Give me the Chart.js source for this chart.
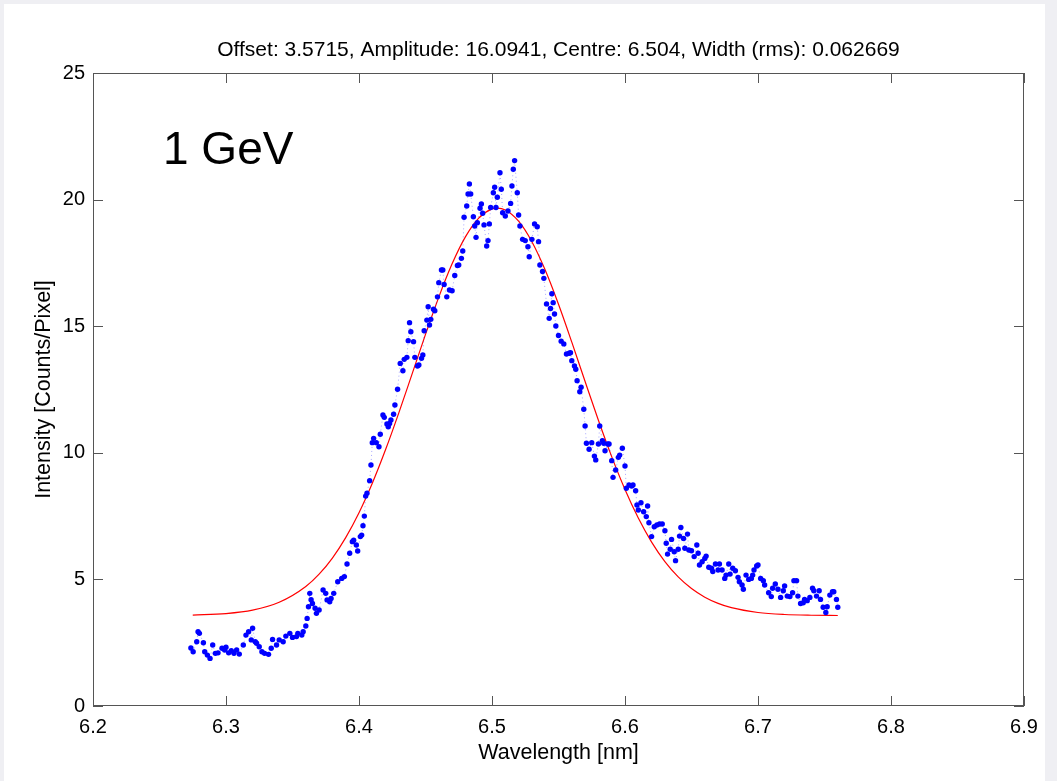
<!DOCTYPE html>
<html>
<head>
<meta charset="utf-8">
<script src="https://cdn.jsdelivr.net/npm/chart.js@4"></script>
<style>
  html, body { margin: 0; padding: 0; background: #efeff3; }
  canvas { display: block; }
</style>
</head>
<body>
<canvas id="spectrum" width="1057" height="781"></canvas>
<script>
// Measured spectrum (blue dots)
const wavelength = [
  6.2736, 6.2753, 6.278, 6.279, 6.280, 6.283, 6.284, 6.286, 6.288, 6.290,
  6.292, 6.294, 6.297, 6.299, 6.300, 6.302, 6.304, 6.306, 6.308, 6.310,
  6.313, 6.315, 6.317, 6.319, 6.320, 6.322, 6.323, 6.325, 6.327, 6.329,
  6.332, 6.334, 6.335, 6.338, 6.340, 6.343, 6.345, 6.348, 6.350, 6.353,
  6.354, 6.357, 6.358, 6.360, 6.361, 6.362, 6.363, 6.364, 6.365, 6.367,
  6.368, 6.370, 6.373, 6.375, 6.376, 6.378, 6.379, 6.381, 6.384, 6.387,
  6.389, 6.391, 6.393, 6.395, 6.396, 6.398, 6.399, 6.401, 6.402, 6.403,
  6.404, 6.405, 6.406, 6.408, 6.409, 6.410, 6.411, 6.413, 6.415, 6.416,
  6.418, 6.419, 6.421, 6.422, 6.423, 6.424, 6.426, 6.427, 6.429, 6.431,
  6.433, 6.434, 6.436, 6.437, 6.438, 6.439, 6.441, 6.442, 6.444, 6.445,
  6.447, 6.448, 6.449, 6.451, 6.452, 6.453, 6.454, 6.456, 6.457, 6.459,
  6.460, 6.462, 6.463, 6.464, 6.466, 6.468, 6.470, 6.472, 6.474, 6.475,
  6.477, 6.478, 6.479, 6.481, 6.482, 6.483, 6.484, 6.486, 6.487, 6.488,
  6.489, 6.491, 6.492, 6.493, 6.494, 6.496, 6.497, 6.498, 6.499, 6.501,
  6.502, 6.503, 6.504, 6.506, 6.507, 6.508, 6.510, 6.512, 6.514, 6.515,
  6.516, 6.517, 6.519, 6.520, 6.521, 6.523, 6.525, 6.527, 6.528, 6.530,
  6.532, 6.534, 6.535, 6.536, 6.538, 6.539, 6.541, 6.543, 6.544, 6.545,
  6.546, 6.547, 6.548, 6.550, 6.552, 6.554, 6.556, 6.558, 6.559, 6.560,
  6.562, 6.563, 6.564, 6.566, 6.567, 6.569, 6.570, 6.571, 6.573, 6.575,
  6.577, 6.578, 6.580, 6.581, 6.583, 6.584, 6.585, 6.587, 6.588, 6.590,
  6.591, 6.593, 6.595, 6.596, 6.598, 6.600, 6.601, 6.603, 6.605, 6.606,
  6.608, 6.609, 6.610, 6.612, 6.614, 6.616, 6.617, 6.618, 6.620, 6.622,
  6.624, 6.626, 6.628, 6.630, 6.631, 6.632, 6.634, 6.635, 6.637, 6.638,
  6.640, 6.641, 6.642, 6.644, 6.645, 6.647, 6.648, 6.650, 6.652, 6.654,
  6.655, 6.656, 6.658, 6.660, 6.661, 6.663, 6.665, 6.666, 6.668, 6.670,
  6.671, 6.673, 6.675, 6.676, 6.678, 6.679, 6.681, 6.683, 6.685, 6.686,
  6.688, 6.689, 6.691, 6.693, 6.695, 6.696, 6.697, 6.699, 6.700, 6.702,
  6.704, 6.705, 6.708, 6.710, 6.711, 6.713, 6.715, 6.717, 6.719, 6.720,
  6.722, 6.724, 6.726, 6.727, 6.729, 6.730, 6.732, 6.734, 6.735, 6.737,
  6.739, 6.741, 6.742, 6.744, 6.746, 6.747, 6.749, 6.751, 6.752, 6.754,
  6.756, 6.757, 6.759, 6.760
];
const intensity = [
  2.29, 2.14, 2.54, 2.93, 2.87, 2.50, 2.14, 2.01, 1.88, 2.41,
  2.08, 2.10, 2.28, 2.21, 2.32, 2.10, 2.18, 2.08, 2.21, 2.05,
  2.41, 2.80, 2.93, 2.61, 3.07, 2.54, 2.48, 2.34, 2.14, 2.08,
  2.04, 2.28, 2.63, 2.41, 2.61, 2.54, 2.76, 2.87, 2.71, 2.74,
  2.87, 2.80, 2.93, 3.16, 3.46, 3.92, 4.45, 4.20, 4.05, 3.86,
  3.66, 3.79, 4.58, 4.45, 4.19, 4.12, 4.25, 4.45, 4.91, 5.04,
  5.11, 5.61, 6.03, 6.49, 6.55, 6.36, 6.12, 6.69, 6.75, 7.12,
  7.50, 8.29, 8.40, 8.90, 9.52, 10.40, 10.57, 10.40, 10.24, 10.73,
  11.49, 11.40, 11.14, 11.03, 11.16, 11.30, 11.52, 11.89, 12.51, 13.53,
  13.24, 13.69, 13.77, 14.43, 15.14, 14.78, 14.39, 13.77, 13.43, 13.47,
  13.73, 13.86, 14.82, 15.24, 15.77, 15.05, 15.27, 15.67, 15.61, 16.16,
  16.72, 17.22, 17.22, 16.65, 16.16, 16.43, 16.40, 17.00, 17.40, 17.42,
  17.68, 17.97, 19.30, 19.75, 20.22, 20.62, 20.22, 19.32, 18.96, 18.51,
  19.09, 19.66, 19.83, 19.46, 19.00, 18.17, 18.38, 19.04, 19.69, 20.27,
  20.49, 19.69, 20.09, 21.06, 20.41, 19.48, 19.35, 19.55, 19.85, 20.54,
  21.20, 21.54, 20.27, 19.39, 18.96, 18.43, 18.38, 18.14, 17.74, 18.43,
  19.04, 18.93, 18.34, 17.42, 17.16, 16.89, 15.88, 15.31, 15.70, 16.28,
  15.93, 15.48, 15.01, 14.63, 14.41, 14.30, 13.90, 13.93, 13.95, 13.64,
  13.43, 13.30, 12.85, 12.41, 12.59, 11.72, 11.06, 10.38, 10.14, 10.40,
  9.87, 9.72, 10.35, 11.06, 10.48, 10.38, 10.08, 10.35, 10.35, 9.69,
  9.03, 9.32, 9.82, 9.91, 10.18, 9.48, 8.60, 8.73, 8.69, 8.73,
  8.50, 7.94, 7.74, 8.03, 7.67, 7.48, 7.90, 7.24, 6.69, 7.08,
  7.15, 7.19, 7.19, 6.92, 6.43, 6.00, 6.19, 6.58, 6.09, 5.74,
  6.19, 6.71, 7.05, 6.62, 6.23, 6.79, 6.16, 6.13, 5.90, 6.36,
  6.03, 5.57, 5.70, 5.83, 5.92, 5.48, 5.44, 5.31, 5.61, 5.37,
  5.61, 5.37, 5.04, 5.17, 5.61, 5.21, 5.44, 5.34, 5.08, 4.91,
  4.78, 4.61, 5.17, 5.00, 5.04, 5.17, 5.37, 5.53, 5.57, 5.04,
  4.95, 4.78, 4.47, 4.32, 4.65, 4.82, 4.61, 4.29, 4.55, 4.74,
  4.34, 4.32, 4.47, 4.95, 4.95, 4.34, 4.05, 4.08, 4.21, 4.16,
  4.29, 4.65, 4.55, 4.34, 4.55, 4.21, 3.90, 3.69, 3.92, 4.38,
  4.51, 4.51, 4.21, 3.90
];

// Gaussian fit (red curve)
const fitWavelength = [
  6.275, 6.30, 6.32, 6.34, 6.36, 6.37, 6.38, 6.39, 6.40, 6.41,
  6.42, 6.43, 6.44, 6.45, 6.46, 6.47, 6.48, 6.49, 6.50, 6.504,
  6.51, 6.52, 6.53, 6.54, 6.55, 6.56, 6.57, 6.58, 6.59, 6.60,
  6.61, 6.62, 6.63, 6.64, 6.65, 6.66, 6.67, 6.68, 6.70, 6.72,
  6.74, 6.76
];
const fitIntensity = [
  3.592, 3.652, 3.787, 4.096, 4.720, 5.208, 5.844, 6.649, 7.632, 8.797,
  10.127, 11.586, 13.126, 14.675, 16.149, 17.462, 18.528, 19.270, 19.633, 19.666,
  19.592, 19.149, 18.338, 17.218, 15.864, 14.369, 12.814, 11.287, 9.848, 8.549,
  7.421, 6.473, 5.704, 5.099, 4.638, 4.298, 4.054, 3.883, 3.693, 3.614,
  3.585, 3.575
];

const xTicks = [6.2, 6.3, 6.4, 6.5, 6.6, 6.7, 6.8, 6.9];
const yTicks = [0, 5, 10, 15, 20, 25];

const titleText = 'Offset: 3.5715, Amplitude: 16.0941, Centre: 6.504, Width (rms): 0.062669';
const xLabel = 'Wavelength [nm]';
const yLabel = 'Intensity [Counts/Pixel]';
const annotation = '1 GeV';

const FONT = "'Liberation Sans', Arial, Helvetica, sans-serif";
const BOX = '#555555';

// grey frame + white figure
const figureBg = {
  id: 'figureBg',
  beforeDraw(chart) {
    const ctx = chart.ctx;
    ctx.save();
    ctx.fillStyle = '#efeff3';
    ctx.fillRect(0, 0, chart.width, chart.height);
    ctx.fillStyle = '#ffffff';
    ctx.fillRect(4, 4, 1041, chart.height - 4);
    ctx.restore();
  }
};

// matlab-style box with inward ticks + texts
const boxAndText = {
  id: 'boxAndText',
  afterDraw(chart) {
    const ctx = chart.ctx;
    const a = chart.chartArea;
    const xs = chart.scales.x, ys = chart.scales.y;
    ctx.save();
    ctx.strokeStyle = BOX;
    ctx.lineWidth = 1;
    ctx.strokeRect(a.left + 0.5, a.top + 0.5, a.right - a.left - 1, a.bottom - a.top - 1);
    ctx.beginPath();
    xTicks.forEach(v => {
      const px = Math.round(xs.getPixelForValue(v)) + 0.5;
      ctx.moveTo(px, a.bottom); ctx.lineTo(px, a.bottom - 10);
      ctx.moveTo(px, a.top); ctx.lineTo(px, a.top + 10);
    });
    yTicks.forEach(v => {
      const py = Math.round(ys.getPixelForValue(v)) + 0.5;
      ctx.moveTo(a.left, py); ctx.lineTo(a.left + 10, py);
      ctx.moveTo(a.right, py); ctx.lineTo(a.right - 10, py);
    });
    ctx.stroke();

    const cx = (a.left + a.right) / 2;
    ctx.fillStyle = '#000';
    ctx.textAlign = 'center';
    ctx.textBaseline = 'alphabetic';
    ctx.font = '21px ' + FONT;
    ctx.fillText(titleText, cx, 56);
    ctx.font = '21.5px ' + FONT;
    ctx.fillText(xLabel, cx, 759);
    ctx.save();
    ctx.translate(50, (a.top + a.bottom) / 2);
    ctx.rotate(-Math.PI / 2);
    ctx.fillText(yLabel, 0, 0);
    ctx.restore();

    ctx.textAlign = 'left';
    ctx.font = '46px ' + FONT;
    ctx.fillText(annotation, 163, 164);
    ctx.restore();
  }
};

new Chart(document.getElementById('spectrum'), {
  type: 'scatter',
  data: {
    datasets: [
      {
        label: 'fit',
        data: fitWavelength.map((x, i) => ({ x, y: fitIntensity[i] })),
        showLine: true,
        borderColor: '#ff0000',
        borderWidth: 1.2,
        pointRadius: 0,
        cubicInterpolationMode: 'monotone',
        order: 2
      },
      {
        label: 'data',
        data: wavelength.map((x, i) => ({ x, y: intensity[i] })),
        showLine: true,
        borderColor: 'rgba(0,0,255,0.35)',
        borderWidth: 1,
        borderDash: [1, 3],
        backgroundColor: '#0000ff',
        pointBackgroundColor: '#0000ff',
        pointBorderWidth: 0,
        pointRadius: 2.7,
        order: 1
      }
    ]
  },
  options: {
    responsive: false,
    animation: false,
    layout: { padding: { left: 0, top: 73, right: 33, bottom: 35 } },
    plugins: {
      legend: { display: false },
      tooltip: { enabled: false }
    },
    scales: {
      x: {
        type: 'linear',
        min: 6.2,
        max: 6.9,
        afterBuildTicks: s => { s.ticks = xTicks.map(v => ({ value: v })); },
        afterFit: s => { s.height = 40; },
        grid: { display: false, drawTicks: false },
        border: { display: false },
        ticks: {
          padding: 9,
          color: '#000',
          font: { family: FONT, size: 20 },
          maxRotation: 0,
          callback: v => v.toFixed(1)
        }
      },
      y: {
        type: 'linear',
        min: 0,
        max: 25,
        afterBuildTicks: s => { s.ticks = yTicks.map(v => ({ value: v })); },
        afterFit: s => { s.width = 93; },
        grid: { display: false, drawTicks: false },
        border: { display: false },
        ticks: {
          padding: 8,
          color: '#000',
          font: { family: FONT, size: 20 },
          callback: v => String(v)
        }
      }
    }
  },
  plugins: [figureBg, boxAndText]
});
</script>
</body>
</html>
